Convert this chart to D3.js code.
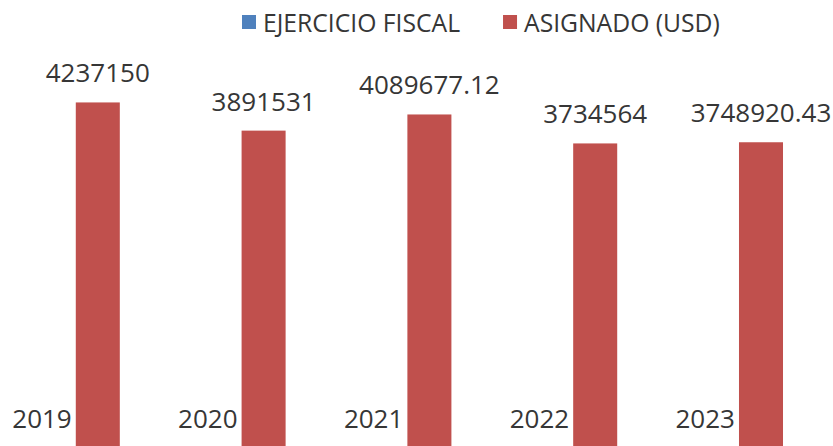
<!DOCTYPE html>
<html lang="es">
<head>
<meta charset="utf-8">
<script src="https://d3js.org/d3.v7.min.js"></script>
<style>
  * { margin: 0; padding: 0; }
  body { background: #fff; overflow: hidden; }
  text { font-family: "Open Sans", "Liberation Sans", sans-serif; fill: #363636; }
</style>
</head>
<body>
<script>
// data
const years = ['2019', '2020', '2021', '2022', '2023'];
const series = ['EJERCICIO FISCAL', 'ASIGNADO (USD)'];
const ejercicio = [2019, 2020, 2021, 2022, 2023];
const asignado = [4237150, 3891531, 4089677.12, 3734564, 3748920.43];
const colors = ['#4F81BD', '#C0504D'];

const width = 833, height = 446;

const rows = years.map((y, i) => ({ year: y, values: [ejercicio[i], asignado[i]] }));

const svg = d3.select('body').append('svg')
    .attr('width', width)
    .attr('height', height);

// plot area is cropped on the left and at the bottom in the reference
const x = d3.scaleBand()
    .domain(years)
    .range([-13, 816])
    .paddingInner(0.398)
    .paddingOuter(0.199);

const xs = d3.scaleBand()
    .domain(series)
    .range([0, x.bandwidth()])
    .paddingInner(0.211);

const y = d3.scaleLinear()
    .domain([0, 4500000])
    .range([448, 81]);

const bottom = height + 20;

const groups = svg.append('g')
    .selectAll('g')
    .data(rows)
    .join('g')
    .attr('transform', d => `translate(${x(d.year)},0)`);

groups.selectAll('rect')
    .data(d => d.values.map((v, i) => ({ key: series[i], v, i })))
    .join('rect')
    .attr('x', d => xs(d.key))
    .attr('width', xs.bandwidth())
    .attr('y', d => y(d.v))
    .attr('height', d => bottom - y(d.v))
    .attr('fill', d => colors[d.i]);

groups.selectAll('text')
    .data(d => d.values.map((v, i) => ({ key: series[i], v, i })))
    .join('text')
    .attr('x', d => xs(d.key) + xs.bandwidth() / 2)
    .attr('y', d => y(d.v) - 20)
    .attr('text-anchor', 'middle')
    .attr('font-size', 26)
    .text(d => String(d.v));

// legend
const legend = svg.append('g').attr('transform', 'translate(242,0)');
let lx = 0;
series.forEach((s, i) => {
    const g = legend.append('g').attr('transform', `translate(${lx},0)`);
    g.append('rect')
        .attr('x', 0).attr('y', 15)
        .attr('width', 14).attr('height', 14)
        .attr('fill', colors[i]);
    const t = g.append('text')
        .attr('x', 21).attr('y', 32)
        .attr('font-size', 24.7)
        .text(s);
    lx += 21 + t.node().getComputedTextLength() + 43;
});
</script>
</body>
</html>
